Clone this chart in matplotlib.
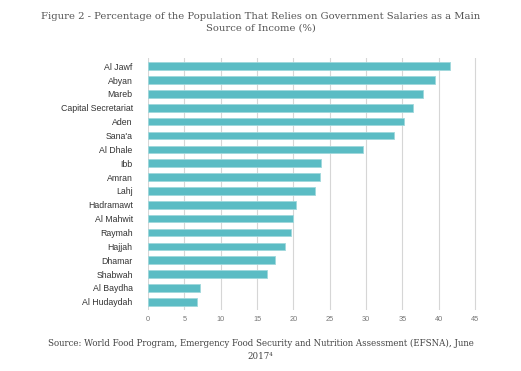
import numpy as np
import matplotlib.pyplot as plt

# ----------------------------------
# Data
# ----------------------------------

governorates = [
    "Al Jawf", "Abyan", "Mareb", "Capital Secretariat", "Aden", "Sana'a",
    "Al Dhale", "Ibb", "Amran", "Lahj", "Hadramawt", "Al Mahwit",
    "Raymah", "Hajjah", "Dhamar", "Shabwah", "Al Baydha", "Al Hudaydah",
]
share_pct = [
    41.6, 39.5, 37.9, 36.4, 35.2, 33.8,
    29.6, 23.8, 23.6, 23.0, 20.3, 19.9,
    19.7, 18.8, 17.5, 16.4, 7.2, 6.8,
]
x_ticks = [0, 5, 10, 15, 20, 25, 30, 35, 40, 45]

TITLE = ("Figure 2 - Percentage of the Population That Relies on Government "
         "Salaries as a Main\nSource of Income (%)")
SOURCE = ("Source: World Food Program, Emergency Food Security and Nutrition "
          "Assessment (EFSNA), June\n2017\u2074")

# ----------------------------------
# Plot
# ----------------------------------

fig = plt.figure(figsize=(5.21, 3.71), dpi=100)
ax = fig.add_axes([0.284, 0.164, 0.632, 0.680])

y = np.arange(len(governorates))
ax.barh(y, share_pct, height=0.55, color="#5bbcc4",
        edgecolor="#9fd8dc", linewidth=0.6, zorder=3)

ax.set_ylim(len(governorates) - 0.4, -0.6)
ax.set_xlim(0, 45.3)
ax.set_yticks(y)
ax.set_yticklabels(governorates, fontsize=6.3, color="#333333",
                   family="Liberation Sans")
ax.set_xticks(x_ticks)
ax.set_xticklabels([str(v) for v in x_ticks], fontsize=5.3, color="#777777",
                   family="Liberation Sans")
ax.tick_params(axis="y", length=0, pad=11)
ax.tick_params(axis="x", length=0, pad=4)
ax.grid(axis="x", color="#d6d6d6", linewidth=0.8, zorder=0)
for s in ax.spines.values():
    s.set_visible(False)

fig.text(0.5, 0.968, TITLE, ha="center", va="top", fontsize=7.2,
         color="#555555", family="DejaVu Serif", linespacing=1.4)
fig.text(0.5, 0.087, SOURCE, ha="center", va="top", fontsize=6.25,
         color="#444444", family="DejaVu Serif", linespacing=1.65)

fig.savefig("out.png", dpi=100)
